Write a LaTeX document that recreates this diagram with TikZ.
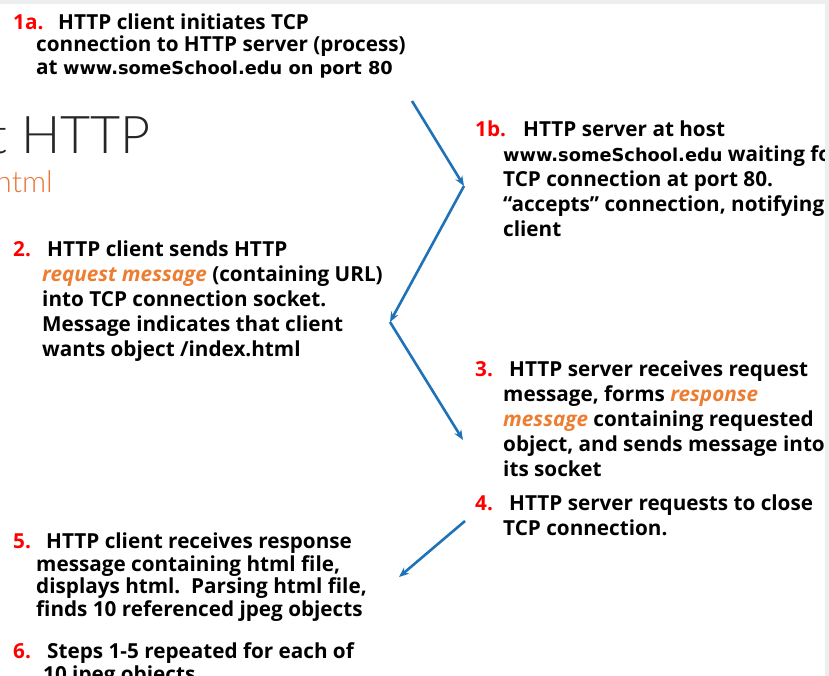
\documentclass[tikz,border=0pt]{standalone}
\usepackage{fontspec}
\setmainfont{Open Sans}
\newfontfamily\titlefont{Lato Light}
\newfontfamily\urlfont{DejaVu Sans}
\usetikzlibrary{arrows.meta}

\definecolor{arrowblue}{HTML}{1F72B8}
\definecolor{hlorange}{HTML}{ED7D31}
\definecolor{numred}{HTML}{FF0000}
\definecolor{bargray}{HTML}{EDEEF0}
\definecolor{titlegray}{HTML}{262626}
\definecolor{subtitleorange}{HTML}{E8773A}

% step text: bold, fixed size, line distance as argument
\newcommand\stepfontsz[1]{\fontsize{20.7}{#1}\selectfont\bfseries}
\newcommand\hl[1]{{\color{hlorange}\itshape #1}}
\newcommand\url[1]{{\urlfont\fontsize{17.8}{17.8}\selectfont #1}}

\begin{document}
\begin{tikzpicture}[x=1pt,y=-1pt,
  stepnum/.style={anchor=base west, inner sep=0pt, text=numred, font=\stepfontsz{25}},
  % multi-line bodies are placed by the baseline of their last line
  stepbody/.style={anchor=base west, inner sep=0pt, align=left, font=\stepfontsz{25}},
  flow/.style={draw=arrowblue, line width=2.6pt, -{Stealth[length=10pt,width=8pt]}}
]
\useasboundingbox (0,0) rectangle (829,676);
\clip (0,0) rectangle (829,676);
\fill[white] (0,0) rectangle (829,676);

% slide title behind the steps
\node[anchor=base east, inner sep=0pt, text=titlegray,
      font=\titlefont\fontsize{52}{58}\selectfont] (title) at (151,154) {t HTTP};
\node[anchor=base east, inner sep=0pt, text=subtitleorange,
      font=\titlefont\fontsize{30}{34}\selectfont] (subtitle) at (53,193) {html};

% step 1a
\node[stepnum] (n1a) at (13,29.5) {1a.};
\node[stepbody, font=\stepfontsz{22.5}] (t1a) at (36,74.5)
  {\hspace*{22pt}HTTP client initiates TCP\\
   connection to HTTP server (process)\\
   at \url{www.someSchool.edu on port 80}};

% step 1b
\node[stepnum] (n1b) at (475,136.5) {1b.};
\node[stepbody] (t1b) at (503,236.5)
  {\hspace*{20pt}HTTP server at host\\
   \url{www.someSchool.edu} waiting fo\\
   TCP connection at port 80.\\
   “accepts” connection, notifying\\
   client};

% step 2
\node[stepnum] (n2) at (13,256.5) {2.};
\node[stepbody] (t2) at (42,356.5)
  {\hspace*{5pt}HTTP client sends HTTP\\
   \hl{request message} (containing URL)\\
   into TCP connection socket.\\
   Message indicates that client\\
   wants object /index.html};

% step 3
\node[stepnum] (n3) at (475,376.5) {3.};
\node[stepbody] (t3) at (503,476.5)
  {\hspace*{6pt}HTTP server receives request\\
   message, forms \hl{response}\\
   \hl{message} containing requested\\
   object, and sends message into\\
   its socket};

% step 4
\node[stepnum] (n4) at (475,510.5) {4.};
\node[stepbody] (t4) at (503,535.5)
  {\hspace*{6pt}HTTP server requests to close\\
   TCP connection.};

% step 5
\node[stepnum] (n5) at (13,548.5) {5.};
\node[stepbody, font=\stepfontsz{22.7}] (t5) at (36,616.6)
  {\hspace*{10pt}HTTP client receives response\\
   message containing html file,\\
   displays html.\ \ Parsing html file,\\
   finds 10 referenced jpeg objects};

% step 6
\node[stepnum] (n6) at (13,658.5) {6.};
\node[stepbody, font=\stepfontsz{23}] (t6) at (43,681.5)
  {\hspace*{4pt}Steps 1-5 repeated for each of\\
   10 jpeg objects};

% message flow between client and server
\coordinate (p0) at (412,101);
\coordinate (p1) at (464,186);
\coordinate (p2) at (390,322);
\coordinate (p3) at (463,440);
\coordinate (p4) at (465,521);
\coordinate (p5) at (399,577);
\draw[flow] (p0) -- (p1);
\draw[flow] (p1) -- (p2);
\draw[flow] (p2) -- (p3);
\draw[flow] (p4) -- (p5);

% window edges
\fill[bargray] (0,0) rectangle (829,4.5);
\fill[bargray] (825,4.5) rectangle (829,676);
\end{tikzpicture}
\end{document}
